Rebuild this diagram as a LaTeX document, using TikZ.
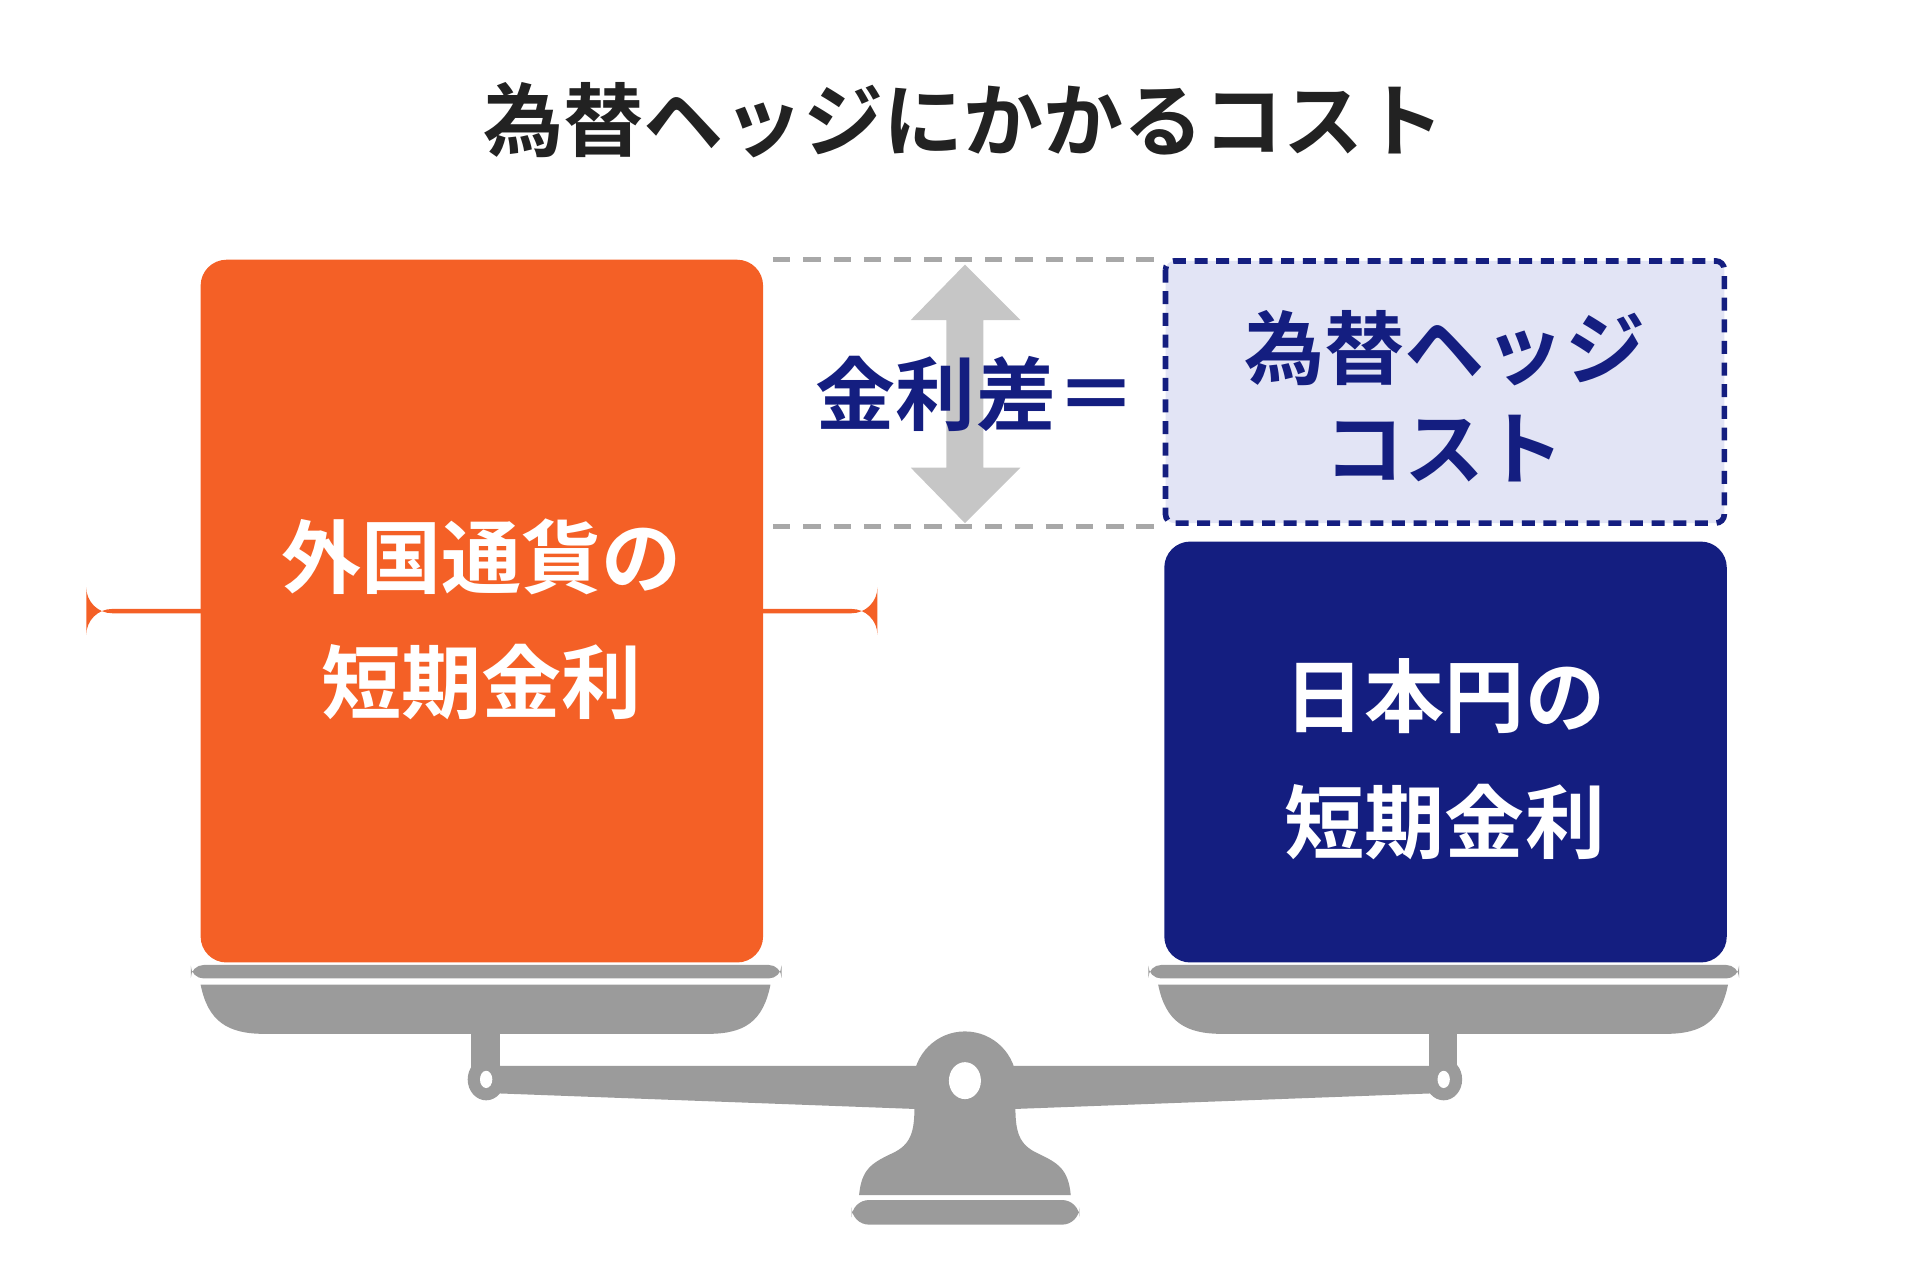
\documentclass[tikz,border=0pt]{standalone}
\usepackage{fontspec}
\newfontfamily\jp{Noto Sans CJK JP Bold}
\definecolor{org}{HTML}{F46026}
\definecolor{nav}{HTML}{141E80}
\definecolor{lav}{HTML}{E2E4F5}
\definecolor{gr}{HTML}{9B9B9B}
\definecolor{dg}{HTML}{A8A8A8}
\definecolor{tt}{HTML}{222222}
\begin{document}
\begin{tikzpicture}[x=0.01cm,y=-0.01cm,
  big/.style={font=\jp\fontsize{18.5}{25}\selectfont,align=center,inner sep=0},
  part/.style={fill=gr,draw=none}]
\useasboundingbox (0,0) rectangle (1560,1038);
\node[big,text=tt] (title) at (783,98) {為替ヘッジにかかるコスト};
% dashed guides
\draw[dg,dashed,line width=1.2pt,dash pattern=on 4pt off 3pt] (628,211) coordinate (g1) -- (940,211) coordinate (g2);
\draw[dg,dashed,line width=1.2pt,dash pattern=on 4pt off 3pt] (628,428) coordinate (g3) -- (940,428) coordinate (g4);
% arrow
\fill[gray!45] (784,215) -- (829,260) -- (799,260) -- (799,380) -- (829,380) -- (784,425) -- (740,380) -- (769,380) -- (769,260) -- (740,260) -- cycle;
\node[big,text=nav] (diff) at (793,320) {金利差＝};
% boxes
\node[fill=org,rounded corners=6pt,minimum width=457\pgflinewidth,inner sep=0] (lbox) at (391.5,496.5) {};
\fill[org,rounded corners=6pt] (163,211) rectangle (620,782);
\node[big,text=white,align=center] (ltext) at (391,503) {外国通貨の\\[4pt]短期金利};
\fill[nav,rounded corners=6pt] (946,440) rectangle (1403,782);
\node[big,text=white] (rtext) at (1174,617) {日本円の\\[4pt]短期金利};
\draw[nav,fill=lav,line width=1.3pt,dash pattern=on 3pt off 2pt,rounded corners=2pt] (947,212) rectangle (1401,425);
\node[big,text=nav] (cost) at (1174,322) {為替ヘッジ\\[-2pt]コスト};
% scale pans
\foreach \c in {395,1173}{
  \fill[gr,rounded corners=3pt] (\c-240,784) rectangle (\c+240,795);
  \fill[gr] (\c-232,800) -- (\c+231,800) .. controls (\c+225,830) and (\c+210,840) .. (\c+180,840) -- (\c-180,840) .. controls (\c-210,840) and (\c-226,830) .. (\c-232,800) -- cycle;
  \fill[gr] (\c-12,838) rectangle (\c+11,880);
}
% beam
\fill[gr] (395,866) -- (1173,866) -- (1173,888) -- (825,901) -- (743,901) -- (395,888) -- cycle;
\fill[gr] (784,880) circle (42);
\foreach \c in {395,1173}{\fill[gr] (\c,877) ellipse (15 and 17);
  \fill[white] (\c,877) ellipse (5 and 7);}
\fill[white] (784,878) ellipse (13 and 15);
% pillar
\fill[gr] (743,899) -- (825,899) .. controls (825,920) and (828,930) .. (843,937) .. controls (860,945) and (868,950) .. (870,971) -- (698,971) .. controls (700,950) and (708,945) .. (725,937) .. controls (740,930) and (743,920) .. (743,899) -- cycle;
\fill[gr,rounded corners=4pt] (692,975) rectangle (877,995);
\end{tikzpicture}
\end{document}
